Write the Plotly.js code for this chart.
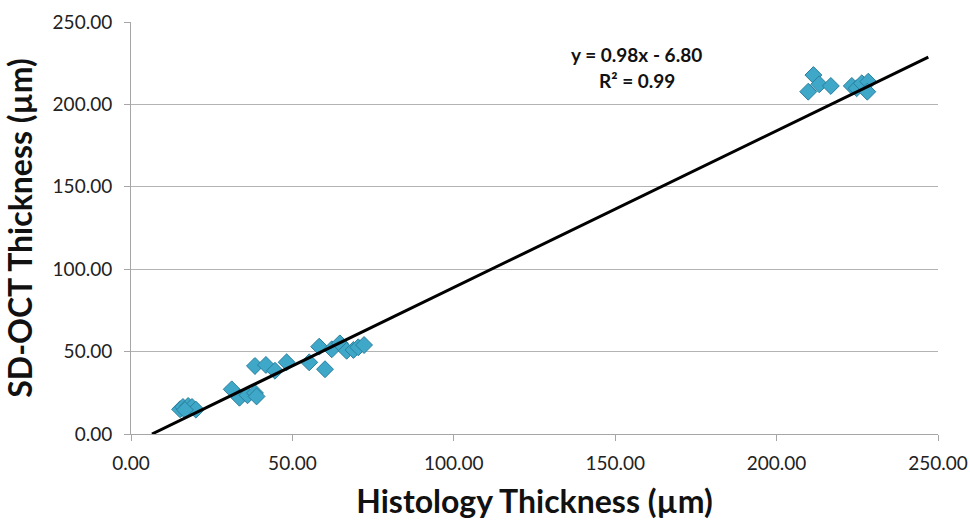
<!DOCTYPE html>
<html>
<head>
<meta charset="utf-8">
<script src="https://cdn.plot.ly/plotly-3.0.1.min.js"></script>
<style>html,body{margin:0;padding:0;background:#fff;}#chart{width:970px;height:520px;}</style>
</head>
<body>
<div id="chart"></div>
<script>
// Histology thickness (x) vs SD-OCT thickness (y), µm
const histology = [15.2, 16.1, 17.7, 18.9, 20.1, 16.7,
  31.2, 33.6, 36.1, 38.4, 38.9, 38.4, 41.8, 44.6, 48.2, 55.2,
  58.3, 60.1, 62.2, 64.7, 66.8, 68.9, 70.4, 72.2,
  209.8, 211.4, 213.2, 216.8, 223.3, 224.8, 226.4, 228.4, 228.1];
const sdoct = [15.0, 16.4, 17.0, 16.4, 14.8, 14.6,
  27.1, 22.0, 23.5, 24.9, 22.8, 41.3, 41.9, 38.4, 43.5, 43.5,
  53.0, 39.3, 51.4, 55.0, 50.5, 51.0, 52.6, 54.0,
  207.7, 217.8, 212.2, 211.2, 211.2, 209.8, 212.8, 213.8, 207.7];

// Linear trendline as drawn (endpoints)
const trendX = [6.5, 247.0];
const trendY = [0.0, 228.7];
const trendLabel = ["y = 0.98x - 6.80", "R² = 0.99"];

const xTicks = [0, 50, 100, 150, 200, 250];
const yTicks = [0, 50, 100, 150, 200, 250];
const fmt = v => v.toFixed(2);

const FONT = "Lato, 'Open Sans', sans-serif";

const traces = [
  {
    x: histology, y: sdoct, type: 'scatter', mode: 'markers',
    marker: {symbol: 'diamond', size: 13, color: '#3FA8C8',
             line: {color: '#2A7F9E', width: 1}},
    hoverinfo: 'x+y', showlegend: false
  },
  {
    x: trendX, y: trendY, type: 'scatter', mode: 'lines',
    line: {color: '#000000', width: 3}, showlegend: false, hoverinfo: 'skip'
  }
];

const layout = {
  width: 970, height: 520,
  margin: {l: 131, r: 32, t: 22, b: 86},
  paper_bgcolor: '#ffffff', plot_bgcolor: '#ffffff',
  font: {family: FONT, color: '#222', size: 19},
  xaxis: {
    range: [0, 250], tickvals: xTicks, ticktext: xTicks.map(fmt),
    showgrid: false, zeroline: false, showline: true, linecolor: '#a6a6a6', linewidth: 1,
    ticks: 'outside', ticklen: 6, tickcolor: '#a6a6a6', ticklabelstandoff: 6,
    tickfont: {family: FONT, size: 19, color: '#222'},
    title: {text: 'Histology Thickness (µm)', font: {family: FONT, size: 32, color: '#111', weight: 'bold'}, standoff: 26}
  },
  yaxis: {
    range: [0, 250], tickvals: yTicks, ticktext: yTicks.map(fmt),
    showgrid: true, gridcolor: '#b3b3b3', gridwidth: 1,
    zeroline: false, showline: true, linecolor: '#a6a6a6', linewidth: 1,
    ticks: 'outside', ticklen: 6, tickcolor: '#a6a6a6', ticklabelstandoff: 8,
    tickfont: {family: FONT, size: 19, color: '#222'},
    title: {text: 'SD-OCT Thickness (µm)', font: {family: FONT, size: 32, color: '#111', weight: 'bold'}, standoff: 14}
  },
  annotations: [
    {xref: 'paper', yref: 'paper', x: (636-131)/807, y: (434-55)/412, text: '<b>' + trendLabel[0] + '</b>',
     showarrow: false, font: {family: FONT, size: 19, color: '#111'}, xanchor: 'center', yanchor: 'middle'},
    {xref: 'paper', yref: 'paper', x: (637-131)/807, y: (434-80)/412, text: '<b>' + trendLabel[1] + '</b>',
     showarrow: false, font: {family: FONT, size: 19, color: '#111'}, xanchor: 'center', yanchor: 'middle'}
  ]
};

Plotly.newPlot('chart', traces, layout, {staticPlot: true, displayModeBar: false});
</script>
</body>
</html>
